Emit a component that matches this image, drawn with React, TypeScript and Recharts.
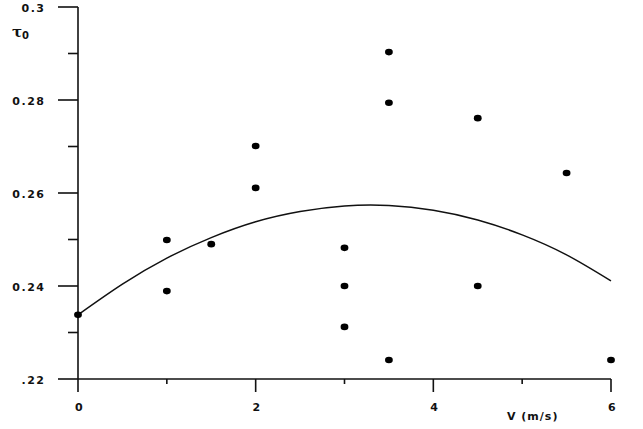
import React from 'react';
import { ComposedChart, Scatter, Line, XAxis, YAxis } from 'recharts';

// Measured points: wind speed V (m/s) and tau0
const speedValues = [0, 1, 1, 1.5, 2, 2, 3, 3, 3, 3.5, 3.5, 3.5, 4.5, 4.5, 5.5, 6];
const tauValues = [0.2338, 0.2499, 0.2389, 0.249, 0.2701, 0.2611, 0.2482, 0.24, 0.2312, 0.2903, 0.2794, 0.2241, 0.2761, 0.24, 0.2643, 0.2241];

// Fitted curve
const fitSpeeds = [0, 0.5, 1, 1.5, 2, 2.5, 3, 3.5, 4, 4.5, 5, 5.5, 6];
const fitTau = [0.2338, 0.2404, 0.246, 0.2504, 0.2538, 0.256, 0.2572, 0.2573, 0.2563, 0.2542, 0.251, 0.2467, 0.2411];

const xTicks = [0, 1, 2, 3, 4, 5, 6];
const xTickLabels = ['0', '', '2', '', '4', '', '6'];
const yTicks = [0.22, 0.23, 0.24, 0.25, 0.26, 0.27, 0.28, 0.29, 0.3];
const yTickLabels = ['.22', '', '0.24', '', '0.26', '', '0.28', '', '0.3'];

const points = speedValues.map((v, i) => ({ x: v, y: tauValues[i] }));
const fit = fitSpeeds.map((v, i) => ({ x: v, y: fitTau[i] }));

const labelStyle = {
  fontFamily: 'DejaVu Sans, Verdana, sans-serif',
  fontWeight: 700,
  fontSize: 11,
  letterSpacing: 1.5,
  fill: '#111',
};

const XTick = (props: any) => {
  const { x, y, index } = props;
  const label = xTickLabels[index];
  const len = label ? 13 : 5;
  return (
    <g>
      <line x1={x} y1={y} x2={x} y2={y + len} stroke="#111" strokeWidth={1.6} />
      {label ? (
        <text x={x + 1.5} y={y + 32} textAnchor="middle" style={labelStyle}>
          {label}
        </text>
      ) : null}
    </g>
  );
};

const YTick = (props: any) => {
  const { x, y, index } = props;
  const label = yTickLabels[index];
  const len = label ? 20 : 10;
  return (
    <g>
      <line x1={x - len} y1={y} x2={x} y2={y} stroke="#111" strokeWidth={1.6} />
      {label ? (
        <text x={x - 32.5} y={y + 5} textAnchor="end" style={labelStyle}>
          {label}
        </text>
      ) : null}
    </g>
  );
};

const Dot = (props: any) => {
  const { cx, cy } = props;
  return <ellipse cx={cx} cy={cy} rx={3.9} ry={3.3} fill="#000" />;
};

export default function App() {
  return (
    <div style={{ position: 'absolute', left: 0, top: 0, width: 643, height: 429, background: '#fff' }}>
      <ComposedChart width={643} height={429} margin={{ top: 7, right: 32, bottom: 0, left: 0 }}>
        <XAxis
          type="number"
          dataKey="x"
          domain={[0, 6]}
          ticks={xTicks}
          interval={0}
          height={50}
          tickSize={0}
          tickMargin={0}
          tickLine={false}
          tick={<XTick />}
          axisLine={{ stroke: '#111', strokeWidth: 1.6 }}
          allowDuplicatedCategory={false}
        />
        <YAxis
          type="number"
          dataKey="y"
          domain={[0.22, 0.3]}
          ticks={yTicks}
          interval={0}
          width={78}
          tickSize={0}
          tickMargin={0}
          tickLine={false}
          tick={<YTick />}
          axisLine={{ stroke: '#111', strokeWidth: 1.6 }}
          allowDataOverflow
        />
        <Line
          data={fit}
          dataKey="y"
          type="natural"
          stroke="#111"
          strokeWidth={1.5}
          dot={false}
          activeDot={false}
          isAnimationActive={false}
        />
        <Scatter data={points} dataKey="y" shape={<Dot />} isAnimationActive={false} />
      </ComposedChart>
      <svg width={643} height={429} style={{ position: 'absolute', left: 0, top: 0, pointerEvents: 'none' }}>
        <text x={12} y={37} style={{ fontFamily: 'DejaVu Serif, serif', fontWeight: 700, fontSize: 15, fill: '#111' }}>
          τ
          <tspan dx={0} dy={2} style={{ fontFamily: 'DejaVu Sans, sans-serif', fontSize: 10 }}>0</tspan>
        </text>
        <text x={507} y={420} style={{ ...labelStyle, letterSpacing: 1 }}>V (m/s)</text>
      </svg>
    </div>
  );
}
